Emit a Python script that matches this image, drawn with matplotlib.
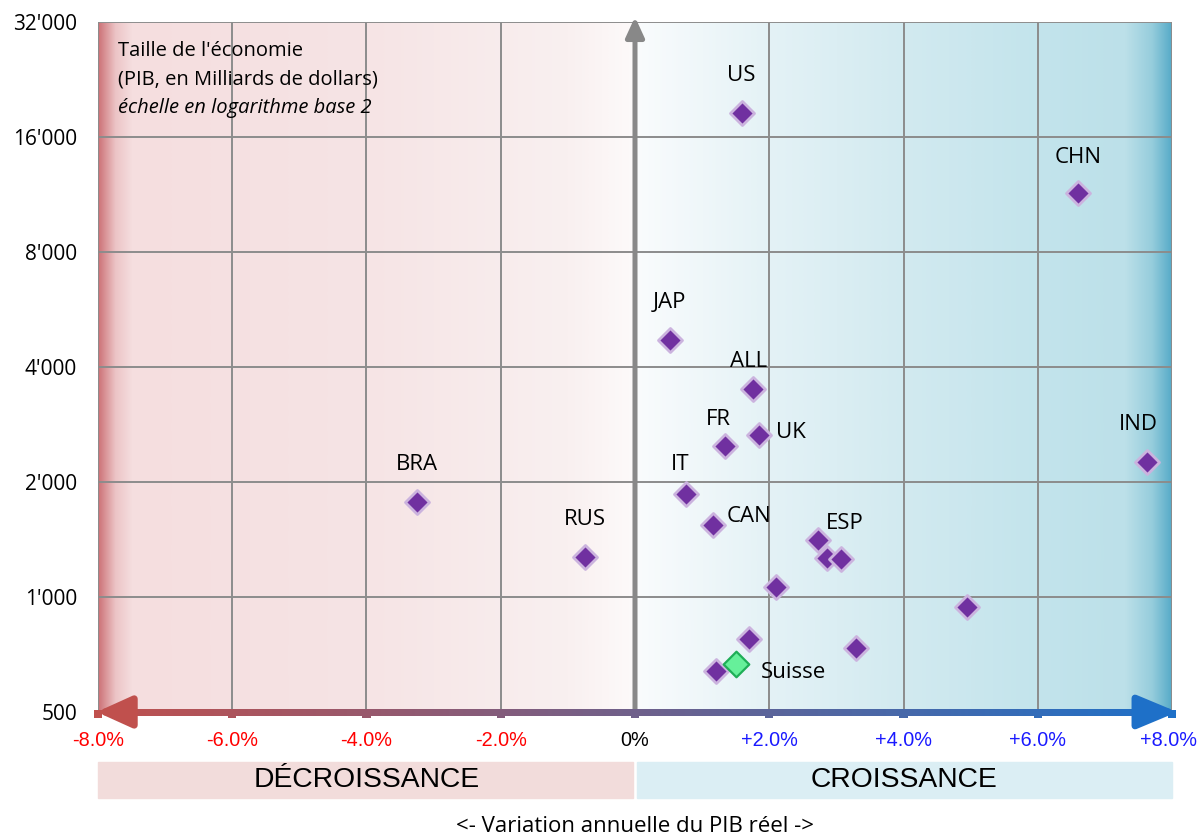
import numpy as np
import matplotlib
matplotlib.use('Agg')
import matplotlib.pyplot as plt
from matplotlib.collections import LineCollection
from matplotlib.patches import Rectangle
import matplotlib.transforms as mtransforms

# data: annual real GDP growth (%) and GDP size (billions USD)
countries = ['US', 'CHN', 'JAP', 'ALL', 'FR', 'UK', 'IND', 'BRA', 'IT', 'CAN', 'RUS', 'ESP',
             '', '', '', '', '', '', '']
growth = [1.59, 6.60, 0.52, 1.76, 1.34, 1.85, 7.63, -3.25, 0.76, 1.16, -0.75, 2.73,
          2.86, 3.07, 2.10, 4.95, 1.70, 3.29, 1.21]
gdp = [18500, 11400, 4710, 3500, 2485, 2655, 2256, 1773, 1860, 1543, 1273, 1410,
       1265, 1257, 1062, 942, 776, 735, 640]

suisse_growth = 1.51
suisse_gdp = 668

x_ticks = [-8, -6, -4, -2, 0, 2, 4, 6, 8]
x_labels = ['-8.0%', '-6.0%', '-4.0%', '-2.0%', '0%', '+2.0%', '+4.0%', '+6.0%', '+8.0%']
y_ticks = [500, 1000, 2000, 4000, 8000, 16000, 32000]
y_labels = ["500", "1'000", "2'000", "4'000", "8'000", "16'000", "32'000"]

# label offsets in points
offsets = {'US': (0, 27), 'CHN': (0, 26), 'JAP': (0, 27), 'ALL': (-3, 20), 'FR': (-5, 19),
           'UK': (23, 2), 'IND': (-6, 27), 'BRA': (0, 27), 'IT': (-4, 21), 'CAN': (26, 6),
           'RUS': (0, 27), 'ESP': (19, 12)}

FONT = 'Open Sans'

fig = plt.figure(figsize=(11.98, 8.39), dpi=100)
ax = fig.add_axes([0.0818, 0.1514, 0.8965, 0.8224])
ax.set_yscale('log', base=2)
ax.set_xlim(-8, 8)
ax.set_ylim(500, 32000)

# background gradient
xs = np.linspace(-8, 8, 1600)
cx = [-8.0, -7.75, -7.5, -4, -1, 0, 0.001, 2, 4, 6, 7.3, 7.7, 8.0]
cr = [205, 236, 245, 246, 249, 253, 250, 228, 210, 195, 188, 150, 85]
cg = [115, 196, 222, 228, 240, 250, 252, 242, 234, 228, 224, 205, 170]
cb = [120, 198, 223, 229, 240, 250, 253, 246, 240, 236, 233, 220, 200]
bg = np.stack([np.interp(xs, cx, cr), np.interp(xs, cx, cg), np.interp(xs, cx, cb)], axis=-1) / 255
ax.imshow(bg[np.newaxis, :, :], extent=(-8, 8, 500, 32000), aspect='auto', zorder=0,
          interpolation='bilinear')

for s in ax.spines.values():
    s.set_visible(False)

ax.set_xticks(x_ticks)
ax.set_xticklabels([])
ax.set_yticks(y_ticks)
ax.set_yticklabels(y_labels)
ax.minorticks_off()
ax.grid(True, color='#8c8c8c', lw=1.4, zorder=1)
ax.set_axisbelow(True)

red = np.array([192, 80, 77]) / 255
blue = np.array([30, 112, 200]) / 255


def arrow_col(x):
    t = (x + 8) / 16
    return tuple(red * (1 - t) + blue * t)


ax.tick_params(axis='x', length=0)
ax.tick_params(axis='y', length=0, pad=15)
for lab in ax.get_yticklabels():
    lab.set_fontfamily(FONT)
    lab.set_fontsize(15)

# x tick labels drawn as texts (red / black / blue)
trans = mtransforms.blended_transform_factory(ax.transData, ax.transAxes)
for t, lab in zip(x_ticks, x_labels):
    col = 'red' if t < 0 else ('black' if t == 0 else '#1a1aff')
    tr = trans
    if t == x_ticks[-1]:
        tr = trans + mtransforms.ScaledTranslation(-4 / 100, 0, fig.dpi_scale_trans)
    ax.text(t, -0.042, lab, transform=tr, ha='center', va='center', color=col,
            fontsize=14.3, family='Liberation Sans', clip_on=False)

# horizontal gradient arrow
xa = np.linspace(-7.6, 7.6, 300)
segs = [[(xa[i], 500), (xa[i + 1], 500)] for i in range(len(xa) - 1)]
lc = LineCollection(segs, colors=[arrow_col(v) for v in xa[:-1]], linewidths=5, zorder=5,
                    clip_on=False, capstyle='projecting', antialiased=False)
ax.add_collection(lc)
ax.annotate('', xy=(-8.02, 500), xytext=(-7.5, 500), annotation_clip=False,
            arrowprops=dict(arrowstyle='-|>,head_length=21,head_width=9.5', mutation_scale=1,
                            color=arrow_col(-8), lw=5, shrinkA=0, shrinkB=0), zorder=6)
ax.annotate('', xy=(8.08, 500), xytext=(7.5, 500), annotation_clip=False,
            arrowprops=dict(arrowstyle='-|>,head_length=24,head_width=10', mutation_scale=1,
                            color=arrow_col(8), lw=5, shrinkA=0, shrinkB=0), zorder=6)
# small square tick marks on the arrow
tick_trans = mtransforms.offset_copy(ax.transData, fig=fig, y=-1.5, units='points')
ax.scatter(x_ticks, [500] * len(x_ticks), marker='s', s=36, c=[arrow_col(t) for t in x_ticks],
           transform=tick_trans, clip_on=False, zorder=5, linewidths=0)

# vertical arrow
ax.annotate('', xy=(0, 33000), xytext=(0, 500), annotation_clip=False,
            arrowprops=dict(arrowstyle='-|>,head_length=12,head_width=5.5', mutation_scale=1,
                            color='#888888', lw=3.6, shrinkA=0, shrinkB=0), zorder=3)

# points
ax.scatter(growth, gdp, marker='D', s=150, c='#7030a0', edgecolors='#cbb3de', linewidths=2,
           zorder=7)
ax.scatter([suisse_growth], [suisse_gdp], marker='D', s=170, c='#66f09a', edgecolors='#1fae57',
           linewidths=1.6, zorder=7)

for name, x, y in zip(countries, growth, gdp):
    if name:
        ax.annotate(name, (x, y), xytext=offsets[name], textcoords='offset points',
                    ha='center', va='center', fontsize=16, family=FONT, zorder=8)
ax.annotate('Suisse', (suisse_growth, suisse_gdp), xytext=(41, -6), textcoords='offset points',
            ha='center', va='center', fontsize=16, family=FONT, zorder=8)

# explanation text
ax.text(0.0186, 0.958, "Taille de l'économie", transform=ax.transAxes, fontsize=14.5,
        family=FONT, va='center')
ax.text(0.0186, 0.917, "(PIB, en Milliards de dollars)", transform=ax.transAxes, fontsize=14.5,
        family=FONT, va='center')
ax.text(0.0186, 0.876, "échelle en logarithme base 2", transform=ax.transAxes, fontsize=14.5,
        family=FONT, va='center', style='italic')

# bottom bands
ax.add_patch(Rectangle((-8, -0.1246), 7.97, 0.0522, transform=trans, color='#f2dcdb',
                       clip_on=False, zorder=2))
ax.add_patch(Rectangle((0.03, -0.1246), 7.97, 0.0522, transform=trans, color='#dbeef4',
                       clip_on=False, zorder=2))
ax.text(-4, -0.0986, 'DÉCROISSANCE', transform=trans, ha='center', va='center',
        fontsize=20.3, family='Liberation Sans')
ax.text(4, -0.0986, 'CROISSANCE', transform=trans, ha='center', va='center',
        fontsize=20.3, family='Liberation Sans')

ax.text(0.5, -0.166, '<- Variation annuelle du PIB réel ->', transform=ax.transAxes,
        ha='center', va='center', fontsize=16, family=FONT)

fig.savefig('out.png', dpi=100)
